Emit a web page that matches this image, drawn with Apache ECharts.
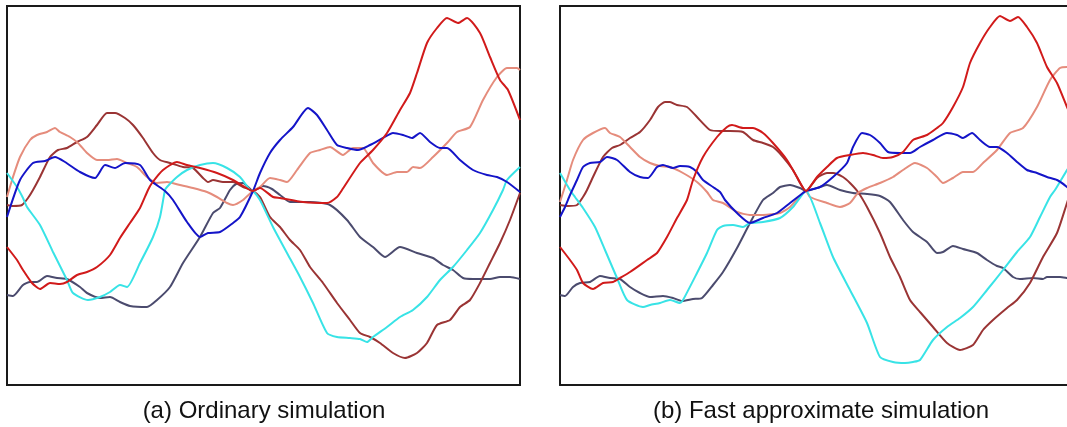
<!DOCTYPE html>
<html>
<head>
<meta charset="utf-8">
<script src="https://cdn.jsdelivr.net/npm/echarts@6/dist/echarts.min.js"></script>
<style>
html,body{margin:0;padding:0;background:#fff;}
#chart{width:1067px;height:427px;}
</style>
</head>
<body>
<div id="chart"></div>
<script>
// Panel captions
var captions = ['(a) Ordinary simulation', '(b) Fast approximate simulation'];
var seriesNames = ['slate', 'brown', 'salmon', 'cyan', 'blue', 'red'];

// Panel (a): ordinary simulation, [t, value]
var aBlue = [[0,168],[13,205],[26,222],[38,224],[48,228],[58,223],[73,213],[88,207],[98,220],[108,217],[118,222],[133,220],[143,205],[158,194],[166,185],[180,163],[193,148],[201,152],[213,153],[226,162],[233,168],[246,194],[253,212],[263,232],[273,245],[286,258],[301,277],[310,270],[320,255],[330,240],[340,237],[351,235],[363,240],[376,247],[386,252],[396,250],[405,247],[413,252],[423,243],[433,237],[440,237],[453,225],[466,215],[480,210],[490,208],[500,203],[513,193]];
var aSlate = [[0,90],[6,89],[16,100],[23,103],[30,103],[40,109],[50,107],[60,106],[73,98],[80,92],[93,87],[103,88],[113,83],[123,79],[140,78],[150,85],[163,98],[176,122],[193,148],[206,172],[213,177],[223,195],[229,201],[236,202],[246,194],[256,199],[265,196],[273,190],[283,183],[303,183],[323,180],[340,165],[353,148],[366,138],[378,128],[393,138],[410,132],[426,127],[436,120],[446,115],[456,107],[466,106],[483,106],[493,108],[503,108],[513,106]];
var aCyan = [[0,212],[10,198],[16,187],[20,178],[33,160],[46,133],[60,105],[66,92],[81,85],[93,88],[103,93],[113,100],[120,98],[133,122],[146,148],[153,168],[158,195],[160,198],[170,208],[180,215],[193,220],[206,222],[220,217],[233,208],[243,195],[246,194],[253,185],[266,158],[280,132],[293,108],[306,82],[320,52],[330,48],[343,47],[353,46],[360,43],[366,48],[380,58],[393,68],[406,75],[420,88],[433,105],[446,118],[460,135],[473,152],[486,175],[496,195],[500,205],[513,218]];
var aRed = [[0,138],[10,125],[16,115],[25,102],[33,96],[43,102],[53,101],[60,103],[70,110],[80,113],[90,118],[103,130],[113,147],[123,162],[133,177],[141,195],[145,202],[156,215],[170,223],[180,220],[193,217],[210,212],[226,205],[243,195],[246,194],[253,197],[266,188],[273,187],[296,183],[320,182],[330,188],[335,195],[353,222],[366,235],[380,252],[393,275],[403,292],[410,312],[420,342],[430,357],[440,367],[451,362],[460,367],[473,352],[483,328],[493,305],[501,295],[513,265]];
var aBrown = [[0,180],[6,179],[15,180],[21,187],[26,195],[33,208],[43,228],[51,235],[60,237],[70,243],[80,248],[90,260],[100,272],[108,272],[118,267],[126,260],[136,247],[146,232],[153,225],[163,222],[176,218],[186,217],[196,207],[201,203],[206,205],[216,203],[226,203],[236,198],[246,194],[253,188],[263,168],[273,158],[283,145],[293,135],[303,118],[316,102],[330,82],[343,65],[353,52],[363,48],[373,42],[386,32],[398,27],[410,32],[420,42],[430,60],[443,65],[453,78],[463,85],[473,102],[483,122],[493,142],[503,165],[513,192]];
var aSalmon = [[0,188],[6,208],[13,228],[23,245],[30,250],[40,253],[48,257],[53,253],[63,248],[71,242],[80,232],[90,225],[100,225],[110,226],[120,222],[130,218],[140,208],[150,202],[160,203],[173,200],[186,197],[200,193],[210,188],[220,182],[226,180],[236,185],[246,194],[253,198],[263,207],[273,205],[280,203],[290,215],[303,232],[313,235],[323,238],[336,230],[346,237],[356,237],[366,222],[380,210],[390,213],[400,213],[406,218],[413,217],[426,228],[440,242],[450,253],[463,258],[476,285],[490,308],[500,317],[510,317],[513,315]];

// Panel (b): fast approximate simulation, [t, value]
var bBlue = [[0,168],[5,178],[10,190],[17,205],[23,218],[30,222],[40,223],[47,228],[57,225],[70,213],[80,208],[88,207],[97,218],[103,220],[113,217],[120,219],[130,218],[137,213],[143,205],[153,198],[160,193],[165,185],[177,172],[190,162],[203,167],[217,172],[230,182],[243,192],[246,194],[260,198],[273,208],[287,222],[293,238],[302,252],[310,250],[320,242],[328,233],[340,232],[350,232],[360,238],[373,245],[387,252],[397,250],[403,247],[412,252],[420,245],[430,238],[437,238],[447,232],[457,223],[467,215],[477,212],[487,208],[497,205],[507,198],[513,192]];
var bSlate = [[0,90],[5,89],[13,98],[20,102],[30,103],[40,109],[50,107],[60,106],[70,98],[80,92],[90,88],[103,89],[113,87],[122,84],[133,86],[142,87],[153,100],[163,113],[177,137],[190,162],[203,185],[213,192],[220,198],[230,200],[240,197],[246,194],[260,198],[267,200],[280,195],[293,192],[307,191],[320,189],[330,183],[343,165],[353,153],[367,143],[377,132],[383,133],[393,139],[403,136],[417,132],[427,125],[437,119],[443,117],[453,108],[460,106],[473,107],[483,106],[487,108],[500,108],[507,107],[513,106]];
var bCyan = [[0,212],[7,200],[10,195],[15,188],[23,177],[35,158],[45,135],[57,107],[67,85],[83,78],[90,80],[100,82],[110,85],[120,82],[123,85],[137,112],[147,132],[157,155],[163,159],[173,160],[183,158],[190,162],[203,163],[220,167],[233,178],[246,194],[260,162],[273,128],[290,95],[307,62],[320,28],[333,23],[345,22],[353,23],[360,25],[373,45],[387,58],[400,67],[413,78],[427,95],[443,115],[457,133],[470,148],[480,168],[490,188],[495,195],[507,215],[513,224]];
var bRed = [[0,138],[10,125],[17,115],[23,102],[33,96],[43,102],[53,103],[60,107],[70,113],[87,125],[97,132],[107,148],[117,167],[127,185],[133,205],[143,228],[157,248],[167,258],[172,260],[183,257],[193,257],[203,252],[213,242],[227,225],[237,208],[246,194],[257,208],[267,218],[277,227],[290,230],[303,232],[313,230],[323,227],[333,228],[343,233],[353,245],[367,250],[377,257],[383,262],[393,278],[403,298],[410,322],[420,342],[430,358],[440,369],[450,364],[458,368],[467,358],[477,342],[487,318],[497,302],[507,278],[513,264]];
var bBrown = [[0,180],[8,179],[17,180],[23,188],[27,195],[33,208],[43,228],[52,237],[60,240],[70,247],[80,253],[90,265],[98,278],[105,283],[110,283],[117,280],[127,278],[137,268],[150,255],[160,254],[170,254],[183,253],[193,245],[203,242],[213,238],[223,228],[233,215],[246,194],[257,207],[267,212],[273,212],[283,208],[290,202],[298,193],[307,178],[320,152],[330,128],[340,108],[350,85],[360,73],[373,58],[387,42],[400,35],[413,40],[423,55],[433,65],[447,77],[457,85],[470,102],[483,128],[497,152],[507,182],[513,200]];
var bSalmon = [[0,183],[7,205],[13,225],[23,245],[33,252],[45,257],[50,252],[60,248],[70,238],[80,228],[90,222],[100,219],[110,218],[123,212],[137,203],[147,193],[153,185],[163,182],[177,173],[190,170],[203,170],[220,172],[230,178],[243,192],[246,194],[250,188],[267,182],[280,178],[290,182],[298,192],[307,197],[320,202],[333,208],[343,215],[355,222],[367,217],[377,208],[383,202],[393,207],[403,213],[413,213],[423,222],[437,235],[450,252],[463,257],[477,278],[490,305],[500,317],[507,318],[513,316]];

var colors = {
  slate: '#4b4b6e',
  brown: '#9a3434',
  salmon: '#e58c7c',
  cyan: '#38e3e6',
  blue: '#1414c8',
  red: '#d11a1a'
};

var panels = [
  {slate: aSlate, brown: aBrown, salmon: aSalmon, cyan: aCyan, blue: aBlue, red: aRed},
  {slate: bSlate, brown: bBrown, salmon: bSalmon, cyan: bCyan, blue: bBlue, red: bRed}
];

var captionCenters = [264, 821];
var frameColor = '#1a1a1a';

var series = [];
panels.forEach(function (p, i) {
  seriesNames.forEach(function (name) {
    series.push({
      type: 'line',
      name: name,
      xAxisIndex: i,
      yAxisIndex: i,
      data: p[name],
      showSymbol: false,
      symbol: 'none',
      smooth: 0.2,
      clip: true,
      silent: true,
      lineStyle: {color: colors[name], width: 2},
      itemStyle: {color: colors[name]}
    });
  });
});

function frameAxis(extra) {
  var base = {
    type: 'value',
    axisLine: {show: true, onZero: false, lineStyle: {color: frameColor, width: 2}},
    axisTick: {show: false},
    axisLabel: {show: false},
    splitLine: {show: false}
  };
  for (var k in extra) base[k] = extra[k];
  return base;
}

var chart = echarts.init(document.getElementById('chart'), null, {renderer: 'canvas'});
chart.setOption({
  animation: false,
  backgroundColor: '#ffffff',
  title: captions.map(function (c, i) {
    return {
      text: c,
      left: captionCenters[i],
      top: 399,
      padding: 0,
      textAlign: 'center',
      textStyle: {fontFamily: 'Liberation Sans', fontSize: 24, fontWeight: 'normal', color: '#111'}
    };
  }),
  grid: [
    {left: 7, top: 6, width: 513, height: 379, show: true, borderColor: frameColor, borderWidth: 2, backgroundColor: 'transparent'},
    // panel (b) runs past the right edge of the picture
    {left: 560, top: 6, right: 0, height: 379, show: false}
  ],
  xAxis: [
    {type: 'value', gridIndex: 0, min: 0, max: 513, show: false},
    frameAxis({gridIndex: 1, min: 0, max: 507, position: 'bottom'}),
    frameAxis({gridIndex: 1, min: 0, max: 507, position: 'top'})
  ],
  yAxis: [
    {type: 'value', gridIndex: 0, min: 0, max: 379, show: false},
    frameAxis({gridIndex: 1, min: 0, max: 379, position: 'left'})
  ],
  series: series
});
</script>
</body>
</html>
